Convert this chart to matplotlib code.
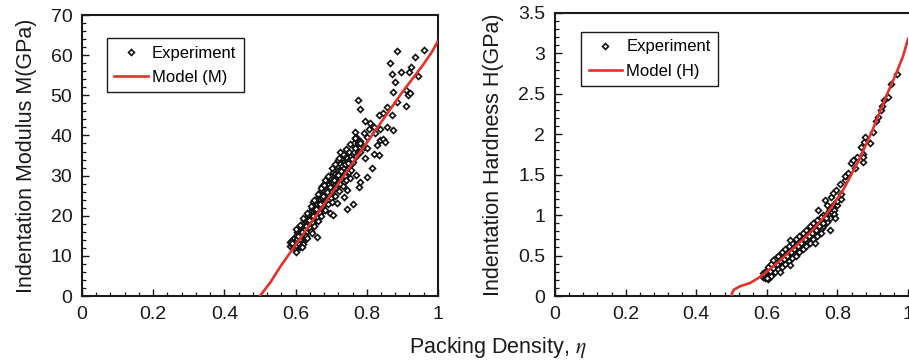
import matplotlib
matplotlib.use("Agg")
import matplotlib.pyplot as plt
from matplotlib.ticker import MultipleLocator

plt.rcParams['font.family'] = ['Liberation Sans', 'DejaVu Sans']
plt.rcParams['mathtext.fontset'] = 'stix'

# --- modulus panel data ---
model_m_x = [0.5, 0.53, 0.557, 0.6, 0.7, 0.8, 0.9, 0.96, 0.983, 1.0]
model_m_y = [0.0, 3.5, 7.3, 12.7, 25.4, 38.2, 50.8, 57.8, 60.8, 63.5]

exp_m_x = [
    0.585, 0.585, 0.59, 0.59, 0.59, 0.595, 0.595,
    0.60, 0.60, 0.60, 0.60, 0.605, 0.605, 0.605,
    0.61, 0.61, 0.61, 0.61, 0.615, 0.615, 0.615,
    0.62, 0.62, 0.62, 0.62, 0.62, 0.625, 0.625, 0.625, 0.625,
    0.63, 0.63, 0.63, 0.63, 0.63, 0.635, 0.635, 0.635, 0.635,
    0.64, 0.64, 0.64, 0.64, 0.64, 0.645, 0.645, 0.645, 0.645,
    0.65, 0.65, 0.65, 0.65, 0.65, 0.65, 0.655, 0.655, 0.655, 0.655,
    0.66, 0.66, 0.66, 0.66, 0.66, 0.665, 0.665, 0.665, 0.665,
    0.67, 0.67, 0.67, 0.67, 0.67, 0.67, 0.675, 0.675, 0.675, 0.675,
    0.68, 0.68, 0.68, 0.68, 0.68, 0.68, 0.685, 0.685, 0.685, 0.685,
    0.69, 0.69, 0.69, 0.69, 0.69, 0.695, 0.695, 0.695, 0.695,
    0.70, 0.70, 0.70, 0.70, 0.70, 0.70, 0.705, 0.705, 0.705, 0.705,
    0.71, 0.71, 0.71, 0.71, 0.71, 0.715, 0.715, 0.715, 0.715,
    0.72, 0.72, 0.72, 0.72, 0.72, 0.72, 0.725, 0.725, 0.725, 0.725,
    0.73, 0.73, 0.73, 0.73, 0.73, 0.735, 0.735, 0.735, 0.735,
    0.74, 0.74, 0.74, 0.74, 0.745, 0.745, 0.745,
    0.75, 0.75, 0.75, 0.75, 0.755, 0.755, 0.755,
    0.76, 0.76, 0.76, 0.765, 0.765, 0.765, 0.77, 0.77, 0.77,
    0.775, 0.775, 0.78, 0.78, 0.78,
    0.602, 0.602, 0.612, 0.612, 0.622, 0.622, 0.632, 0.632,
    0.642, 0.642, 0.652, 0.652, 0.662, 0.662, 0.672, 0.672,
    0.682, 0.682, 0.692, 0.692, 0.702, 0.702, 0.712, 0.712,
    0.722, 0.722, 0.732, 0.732, 0.742, 0.742, 0.752, 0.752,
    0.608, 0.618, 0.628, 0.638, 0.648, 0.658, 0.668, 0.678, 0.688,
    0.698, 0.708, 0.718, 0.728, 0.738, 0.748, 0.758, 0.768,
    0.716, 0.735, 0.744, 0.698, 0.726, 0.679,
    0.59, 0.618, 0.646, 0.66, 0.704, 0.744, 0.76,
    0.768, 0.771, 0.777, 0.782, 0.8, 0.815, 0.796, 0.819, 0.833,
    0.768, 0.782, 0.791, 0.8, 0.829, 0.838, 0.845, 0.85,
    0.791, 0.8, 0.805, 0.824, 0.768,
    0.796, 0.808, 0.819, 0.838, 0.857, 0.874,
    0.833, 0.847, 0.857, 0.871, 0.774, 0.782,
    0.885, 0.91, 0.88, 0.875, 0.91, 0.915, 0.922,
    0.866, 0.871, 0.897, 0.918, 0.925, 0.944,
    0.885, 0.962, 0.936,
]
exp_m_y = [
    13.5, 12.5, 12.8, 14.0, 13.2, 12.0, 14.5,
    13.0, 11.8, 15.0, 13.8, 14.2, 12.4, 16.0,
    13.5, 15.5, 14.8, 12.9, 15.8, 14.0, 17.0,
    16.5, 14.8, 18.0, 15.2, 13.5, 17.2, 15.6, 19.0, 16.4,
    18.5, 16.0, 17.8, 19.5, 15.0, 19.0, 17.4, 20.5, 18.2,
    19.6, 18.0, 21.0, 17.0, 20.2, 20.5, 19.0, 22.0, 18.4,
    21.0, 19.5, 23.5, 20.2, 18.2, 22.5, 22.0, 20.5, 21.5, 24.0,
    22.5, 21.0, 24.0, 19.8, 23.0, 23.5, 22.0, 25.0, 21.2,
    24.0, 22.5, 26.0, 23.2, 20.8, 25.2, 25.0, 23.5, 27.5, 24.5,
    25.5, 24.0, 27.0, 22.8, 26.2, 28.0, 26.5, 25.0, 24.0, 27.8,
    27.0, 25.5, 28.5, 26.0, 23.8, 28.0, 26.5, 29.5, 25.2,
    28.5, 27.0, 30.0, 26.0, 29.2, 24.5, 29.0, 27.5, 31.0, 28.2,
    29.5, 28.0, 31.5, 27.0, 30.5, 30.0, 28.5, 32.0, 29.2,
    30.5, 29.0, 32.5, 27.8, 31.2, 34.0, 31.0, 29.5, 33.0, 28.0,
    31.5, 30.0, 34.5, 29.0, 32.5, 32.0, 30.5, 28.5, 33.5,
    33.0, 31.0, 35.0, 30.0, 33.5, 31.5, 34.5,
    34.0, 32.5, 36.0, 30.8, 35.0, 33.0, 31.5,
    35.5, 33.5, 37.5, 36.0, 34.5, 38.0, 37.0, 35.0, 39.5,
    38.0, 36.0, 38.5, 37.0, 36.0,
    16.8, 11.0, 17.8, 12.2, 19.5, 13.0, 20.8, 14.5,
    22.5, 16.2, 23.8, 17.5, 25.5, 18.8, 27.0, 20.0,
    28.8, 21.5, 30.0, 22.8, 31.8, 23.5, 33.0, 25.0,
    34.5, 26.2, 35.5, 27.5, 36.5, 28.8, 37.8, 29.5,
    15.0, 16.0, 17.5, 19.0, 20.0, 21.8, 23.0, 24.8, 25.8,
    27.2, 28.8, 30.2, 31.2, 32.8, 33.2, 34.2, 36.8,
    23.1, 24.7, 26.4, 20.6, 35.9, 27.6,
    13.1, 12.3, 15.6, 14.8, 20.2, 21.7, 22.9,
    40.9, 30.1, 27.2, 28.5, 29.7, 31.8, 34.3, 35.4, 35.1,
    39.3, 38.0, 37.2, 36.8, 37.6, 38.8, 39.2, 38.4,
    40.5, 39.7, 41.7, 40.5, 39.3,
    43.7, 43.2, 42.2, 41.7, 42.2, 41.3,
    45.1, 45.5, 47.1, 45.1, 48.8, 46.7,
    48.4, 47.3, 53.4, 50.9, 51.3, 50.0, 50.6,
    58.1, 55.4, 55.8, 55.9, 57.1, 54.8,
    61.0, 61.4, 59.6,
]

# --- hardness panel data ---
model_h_x = [0.5, 0.502, 0.507, 0.524, 0.552, 0.575, 0.594, 0.627, 0.675,
             0.722, 0.769, 0.816, 0.863, 0.901, 0.939, 0.967, 0.986, 1.0]
model_h_y = [0.0, 0.04, 0.08, 0.12, 0.16, 0.22, 0.28, 0.40, 0.59,
             0.78, 1.01, 1.31, 1.70, 2.07, 2.48, 2.76, 2.97, 3.18]

exp_h_x = [
    0.59, 0.59, 0.595, 0.595, 0.595, 0.60, 0.60, 0.60,
    0.605, 0.605, 0.605, 0.61, 0.61, 0.61, 0.61, 0.615, 0.615, 0.615,
    0.62, 0.62, 0.62, 0.62, 0.625, 0.625, 0.625, 0.625,
    0.63, 0.63, 0.63, 0.63, 0.635, 0.635, 0.635, 0.635,
    0.64, 0.64, 0.64, 0.64, 0.64, 0.645, 0.645, 0.645, 0.645,
    0.65, 0.65, 0.65, 0.65, 0.65, 0.655, 0.655, 0.655, 0.655,
    0.66, 0.66, 0.66, 0.66, 0.66, 0.665, 0.665, 0.665, 0.665,
    0.67, 0.67, 0.67, 0.67, 0.67, 0.675, 0.675, 0.675, 0.675,
    0.68, 0.68, 0.68, 0.68, 0.68, 0.685, 0.685, 0.685, 0.685,
    0.69, 0.69, 0.69, 0.69, 0.69, 0.695, 0.695, 0.695, 0.695,
    0.70, 0.70, 0.70, 0.70, 0.70, 0.705, 0.705, 0.705, 0.705,
    0.71, 0.71, 0.71, 0.71, 0.71, 0.715, 0.715, 0.715, 0.715,
    0.72, 0.72, 0.72, 0.72, 0.72, 0.725, 0.725, 0.725, 0.725,
    0.73, 0.73, 0.73, 0.73, 0.735, 0.735, 0.735, 0.735,
    0.74, 0.74, 0.74, 0.74, 0.745, 0.745, 0.745,
    0.75, 0.75, 0.75, 0.75, 0.755, 0.755, 0.755,
    0.76, 0.76, 0.76, 0.76, 0.765, 0.765, 0.765,
    0.77, 0.77, 0.77, 0.775, 0.775, 0.775, 0.78, 0.78, 0.78,
    0.785, 0.785, 0.79, 0.79, 0.79, 0.80, 0.80, 0.81, 0.81,
    0.602, 0.602, 0.612, 0.612, 0.622, 0.622, 0.632, 0.632,
    0.642, 0.642, 0.652, 0.652, 0.662, 0.662, 0.672, 0.672,
    0.682, 0.682, 0.692, 0.692, 0.702, 0.702, 0.712, 0.712,
    0.722, 0.722, 0.732, 0.732, 0.742, 0.742, 0.752, 0.752,
    0.608, 0.618, 0.628, 0.638, 0.648, 0.658, 0.668, 0.678, 0.688,
    0.698, 0.708, 0.718, 0.728, 0.738, 0.748, 0.758, 0.768,
    0.599, 0.618, 0.637, 0.665, 0.665, 0.736, 0.778, 0.792,
    0.745, 0.764, 0.769, 0.783, 0.788, 0.797, 0.807, 0.821, 0.821,
    0.830, 0.837, 0.844, 0.849, 0.854, 0.868, 0.873, 0.873, 0.873,
    0.875, 0.879, 0.893, 0.901, 0.910, 0.915, 0.922, 0.927, 0.931,
    0.942, 0.951, 0.970,
]
exp_h_y = [
    0.24, 0.28, 0.22, 0.30, 0.26, 0.27, 0.32, 0.24,
    0.30, 0.34, 0.27, 0.31, 0.36, 0.28, 0.33, 0.33, 0.38, 0.30,
    0.35, 0.40, 0.32, 0.44, 0.37, 0.42, 0.34, 0.46,
    0.38, 0.43, 0.35, 0.48, 0.40, 0.45, 0.37, 0.42,
    0.41, 0.47, 0.38, 0.52, 0.44, 0.43, 0.48, 0.40, 0.46,
    0.45, 0.50, 0.42, 0.55, 0.47, 0.47, 0.52, 0.44, 0.49,
    0.48, 0.54, 0.45, 0.58, 0.51, 0.50, 0.56, 0.47, 0.53,
    0.52, 0.58, 0.49, 0.62, 0.55, 0.54, 0.60, 0.51, 0.57,
    0.56, 0.62, 0.53, 0.66, 0.59, 0.58, 0.64, 0.55, 0.61,
    0.60, 0.66, 0.57, 0.70, 0.63, 0.62, 0.68, 0.59, 0.65,
    0.64, 0.70, 0.61, 0.74, 0.67, 0.66, 0.72, 0.63, 0.69,
    0.68, 0.74, 0.65, 0.78, 0.71, 0.70, 0.76, 0.67, 0.73,
    0.72, 0.78, 0.69, 0.82, 0.75, 0.74, 0.80, 0.71, 0.77,
    0.76, 0.82, 0.73, 0.86, 0.78, 0.84, 0.75, 0.81,
    0.80, 0.86, 0.77, 0.90, 0.83, 0.88, 0.79,
    0.85, 0.90, 0.82, 0.94, 0.87, 0.93, 0.84,
    0.90, 0.96, 0.87, 1.00, 0.93, 0.98, 0.90,
    0.95, 1.02, 0.92, 0.98, 1.05, 1.00, 1.00, 1.08, 0.96,
    1.04, 1.10, 1.06, 1.14, 1.02, 1.12, 1.18, 1.20, 1.26,
    0.36, 0.21, 0.40, 0.25, 0.46, 0.30, 0.50, 0.33,
    0.55, 0.36, 0.58, 0.40, 0.62, 0.43, 0.66, 0.47,
    0.70, 0.50, 0.74, 0.55, 0.78, 0.58, 0.82, 0.62,
    0.86, 0.66, 0.90, 0.70, 0.94, 0.74, 0.98, 0.78,
    0.31, 0.35, 0.40, 0.43, 0.46, 0.50, 0.54, 0.58, 0.62,
    0.66, 0.70, 0.74, 0.78, 0.82, 0.86, 0.90, 0.96,
    0.22, 0.44, 0.30, 0.38, 0.69, 0.65, 0.82, 0.96,
    1.06, 1.19, 1.12, 1.23, 1.27, 1.31, 1.39, 1.43, 1.49,
    1.52, 1.64, 1.68, 1.58, 1.72, 1.84, 1.76, 1.66, 1.72,
    1.91, 1.97, 1.89, 2.03, 2.17, 2.21, 2.30, 2.35, 2.42,
    2.46, 2.62, 2.74,
]

red = '#e3312b'
ink = '#1a1a1a'

fig = plt.figure(figsize=(9.09, 3.62), dpi=100)
ax1 = fig.add_axes([0.0902, 0.1823, 0.3916, 0.7762])
ax2 = fig.add_axes([0.6106, 0.1823, 0.3884, 0.7818])

panels = [
    (ax1, exp_m_x, exp_m_y, model_m_x, model_m_y, 'Model (M)',
     'Indentation Modulus M(GPa)', 70, 10, 2, (0.07, 0.918)),
    (ax2, exp_h_x, exp_h_y, model_h_x, model_h_y, 'Model (H)',
     'Indentation Hardness H(GPa)', 3.5, 0.5, 0.1, (0.074, 0.933)),
]

for ax, ex, ey, mx, my, mlabel, ylabel, ymax, ymaj, ymin, anchor in panels:
    ax.plot(ex, ey, linestyle='none', marker='D', ms=3.0, mfc='white',
            mec='#111111', mew=1.2, label='Experiment', zorder=2)
    ax.plot(mx, my, color=red, lw=1.9, label=mlabel, zorder=3)
    ax.set_xlim(0, 1)
    ax.set_ylim(0, ymax)
    ax.xaxis.set_major_locator(MultipleLocator(0.2))
    ax.xaxis.set_minor_locator(MultipleLocator(0.04))
    ax.yaxis.set_major_locator(MultipleLocator(ymaj))
    ax.yaxis.set_minor_locator(MultipleLocator(ymin))
    ax.tick_params(which='both', direction='in', top=False, right=False,
                   labelsize=14, colors=ink)
    ax.tick_params(which='major', length=5, width=1.0, pad=7)
    ax.tick_params(which='minor', length=3, width=0.9)
    ax.set_xticks([0, 0.2, 0.4, 0.6, 0.8, 1.0])
    ax.set_xticklabels(['0', '0.2', '0.4', '0.6', '0.8', '1'])
    for s in ax.spines.values():
        s.set_linewidth(1.5)
        s.set_color(ink)
    ax.set_ylabel(ylabel, fontsize=15.5, labelpad=10, color=ink)
    leg = ax.legend(loc='upper left', bbox_to_anchor=anchor,
                    fontsize=12, fancybox=False, framealpha=1,
                    edgecolor=ink, handlelength=2.0, borderpad=0.45,
                    labelspacing=0.55, handletextpad=0.25, borderaxespad=0)
    leg.get_frame().set_linewidth(1.0)

ax2.set_yticks([0, 0.5, 1, 1.5, 2, 2.5, 3, 3.5])
ax2.set_yticklabels(['0', '0.5', '1', '1.5', '2', '2.5', '3', '3.5'])
ax2.spines['right'].set_visible(False)

fig.text(0.548, 0.041, r'Packing Density, $\eta$', ha='center', va='center',
         fontsize=15.5, color=ink)

fig.savefig('out.png', dpi=100)
